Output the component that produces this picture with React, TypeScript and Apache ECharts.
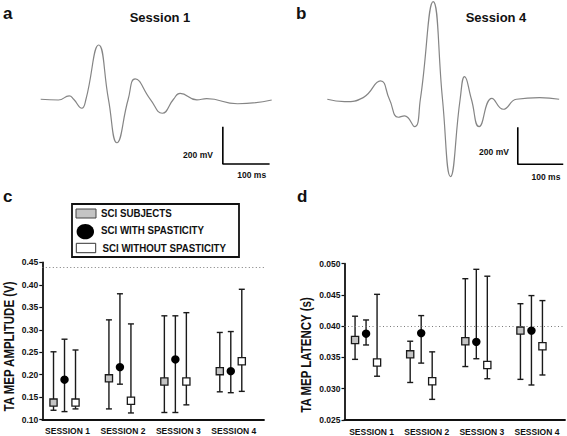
import React, { useEffect, useRef } from 'react';
import * as echarts from 'echarts';

const SESSIONS = ['SESSION 1', 'SESSION 2', 'SESSION 3', 'SESSION 4'];
const GROUP_NAMES = ['SCI SUBJECTS', 'SCI WITH SPASTICITY', 'SCI WITHOUT SPASTICITY'];

// Panel a: session 1 MEP trace (ms, mV)
const WAVE_A_MS = [0, 38, 61, 70.5, 88, 96.8, 124, 144.9, 163, 187.1, 202, 234.4, 260, 284, 298, 334, 355, 421, 494];
const WAVE_A_MV = [0, -4, 18, 0, -48, 0, 291, 0, -233, 0, 109, 0, -75, 0, 32, -3, 3, -24, -4];

// Panel b: session 4 MEP trace (ms, mV)
const WAVE_B_MS = [0, 38, 79, 117, 136.6, 156, 170, 192, 204.7, 233, 253.4, 271, 292.2, 302, 317, 334, 362, 387, 416, 467, 510];
const WAVE_B_MV = [0, -13, 9, 99, 0, -97, -90, -148, 0, 527, 0, -418, 0, 122, 0, -148, 5, -54, 0, 9, 0];

const SCALE_MS = 100;
const SCALE_MV = 200;

// Panel c: TA MEP amplitude (V)
const AMP_ALL_MEAN = [0.138, 0.192, 0.185, 0.208];
const AMP_ALL_LOW = [0.121, 0.124, 0.116, 0.162];
const AMP_ALL_HIGH = [0.251, 0.322, 0.331, 0.294];
const AMP_SPAS_MEAN = [0.189, 0.217, 0.234, 0.208];
const AMP_SPAS_LOW = [0.118, 0.179, 0.116, 0.160];
const AMP_SPAS_HIGH = [0.279, 0.380, 0.331, 0.296];
const AMP_NOSPAS_MEAN = [0.138, 0.142, 0.185, 0.230];
const AMP_NOSPAS_LOW = [0.124, 0.115, 0.133, 0.163];
const AMP_NOSPAS_HIGH = [0.255, 0.313, 0.338, 0.390];
const AMP_REF = 0.441;
const AMP_TICKS = [0.1, 0.45, 0.05];

// Panel d: TA MEP latency (s)
const LAT_ALL_MEAN = [0.0378, 0.0355, 0.0376, 0.0393];
const LAT_ALL_LOW = [0.0347, 0.0310, 0.03355, 0.0315];
const LAT_ALL_HIGH = [0.0416, 0.0376, 0.0476, 0.0436];
const LAT_SPAS_MEAN = [0.0388, 0.0389, 0.0375, 0.0393];
const LAT_SPAS_LOW = [0.0370, 0.0341, 0.0348, 0.0306];
const LAT_SPAS_HIGH = [0.0410, 0.0417, 0.0491, 0.0449];
const LAT_NOSPAS_MEAN = [0.0342, 0.0312, 0.0338, 0.0368];
const LAT_NOSPAS_LOW = [0.0320, 0.0283, 0.0316, 0.0322];
const LAT_NOSPAS_HIGH = [0.0451, 0.0359, 0.0480, 0.0441];
const LAT_REF = 0.040;
const LAT_TICKS = [0.025, 0.05, 0.005];

const FONT = "'Liberation Sans', Arial, Helvetica, sans-serif";
const INK = '#111';
const GRAY_FILL = '#c4c4c4';

function errSeries(xi: number, yi: number, mean: number[], low: number[], high: number[], offset: number, kind: string) {
  return {
    type: 'custom',
    xAxisIndex: xi,
    yAxisIndex: yi,
    clip: false,
    data: mean.map((m, i) => [i, m, low[i], high[i]]),
    encode: { x: 0, y: [1, 2, 3] },
    renderItem: (params: any, api: any) => {
      const c = api.value(0);
      const pm = api.coord([c, api.value(1)]);
      const pl = api.coord([c, api.value(2)]);
      const ph = api.coord([c, api.value(3)]);
      const x = pm[0] + offset;
      const cap = 3;
      const ls = { stroke: '#1a1a1a', lineWidth: 1.4 };
      const children: any[] = [
        { type: 'line', shape: { x1: x, y1: ph[1], x2: x, y2: pl[1] }, style: ls },
        { type: 'line', shape: { x1: x - cap, y1: ph[1], x2: x + cap, y2: ph[1] }, style: ls },
        { type: 'line', shape: { x1: x - cap, y1: pl[1], x2: x + cap, y2: pl[1] }, style: ls },
      ];
      if (kind === 'circle') {
        children.push({ type: 'circle', shape: { cx: x, cy: pm[1], r: 4.2 }, style: { fill: '#000' } });
      } else {
        children.push({
          type: 'rect',
          shape: { x: x - 3.6, y: pm[1] - 3.6, width: 7.2, height: 7.2 },
          style: { fill: kind === 'gray' ? GRAY_FILL : '#fff', stroke: '#1a1a1a', lineWidth: 1.3 },
        });
      }
      return { type: 'group', children };
    },
  };
}

function refLine(xi: number, yi: number, value: number) {
  return {
    type: 'line',
    xAxisIndex: xi,
    yAxisIndex: yi,
    data: SESSIONS.map(() => '-'),
    symbol: 'none',
    silent: true,
    markLine: {
      silent: true,
      symbol: 'none',
      label: { show: false },
      lineStyle: { type: [1, 2.5], color: '#7a7a7a', width: 1 },
      data: [{ yAxis: value }],
    },
  };
}

function txt(x: number, y: number, text: string, size: number, align = 'left', extra: any = {}) {
  return {
    type: 'text',
    x,
    y,
    ...extra,
    style: {
      text,
      fill: INK,
      fontSize: size,
      fontWeight: 'bold',
      fontFamily: FONT,
      align,
      textAlign: align,
      verticalAlign: 'middle',
      textVerticalAlign: 'middle',
    },
  };
}

function catX(gi: number, shiftLeft: number) {
  return {
    type: 'category',
    gridIndex: gi,
    data: SESSIONS,
    boundaryGap: true,
    axisLine: { onZero: false, lineStyle: { color: INK, width: 1.8 } },
    axisTick: { show: false },
    axisLabel: {
      interval: 0,
      margin: 7,
      color: INK,
      fontSize: 8.5,
      fontWeight: 'bold',
      fontFamily: FONT,
      padding: [0, shiftLeft * 2, 0, 0],
    },
    splitLine: { show: false },
  };
}

function valY(gi: number, ticks: number[], digits: number) {
  return {
    type: 'value',
    gridIndex: gi,
    min: ticks[0],
    max: ticks[1],
    interval: ticks[2],
    axisLine: { show: true, onZero: false, lineStyle: { color: INK, width: 1.8 } },
    axisTick: { show: true, length: 3, lineStyle: { color: INK, width: 1.2 } },
    axisLabel: {
      margin: 4,
      color: INK,
      fontSize: 8.5,
      fontWeight: 'bold',
      fontFamily: FONT,
      formatter: (v: number) => v.toFixed(digits),
    },
    splitLine: { show: false },
  };
}

function waveSeries(gi: number, ms: number[], mv: number[]) {
  return {
    type: 'line',
    xAxisIndex: gi,
    yAxisIndex: gi,
    data: ms.map((t, i) => [t, mv[i]]),
    symbol: 'none',
    smooth: 0.5,
    clip: false,
    lineStyle: { color: '#858585', width: 1.2 },
  };
}

function scaleBar(gi: number, cornerMs: number, cornerMv: number) {
  return {
    type: 'line',
    xAxisIndex: gi,
    yAxisIndex: gi,
    data: [
      [cornerMs, cornerMv + SCALE_MV],
      [cornerMs, cornerMv],
      [cornerMs + SCALE_MS, cornerMv],
    ],
    symbol: 'none',
    clip: false,
    lineStyle: { color: '#000', width: 1.6 },
  };
}

const hiddenVal = (gi: number, min: number, max: number) => ({ type: 'value', gridIndex: gi, min, max, show: false });

const option: any = {
  animation: false,
  backgroundColor: '#fff',
  textStyle: { fontFamily: FONT },
  grid: [
    { left: 40.7, top: 43.3, width: 231, height: 130.6 },
    { left: 327.3, top: 0, width: 236.4, height: 182.6 },
    { left: 42.3, top: 262.3, width: 221.7, height: 157.4 },
    { left: 344.5, top: 263.7, width: 220.5, height: 157.5 },
  ],
  xAxis: [hiddenVal(0, 0, 494), hiddenVal(1, 0, 520), catX(2, 2.5), catX(3, 0.5)],
  yAxis: [hiddenVal(0, -400, 300), hiddenVal(1, -450, 536), valY(2, AMP_TICKS, 2), valY(3, LAT_TICKS, 3)],
  series: [
    waveSeries(0, WAVE_A_MS, WAVE_A_MV),
    waveSeries(1, WAVE_B_MS, WAVE_B_MV),
    scaleBar(0, 389.5, -347),
    scaleBar(1, 419, -351),
    refLine(2, 2, AMP_REF),
    refLine(3, 3, LAT_REF),
    errSeries(2, 2, AMP_ALL_MEAN, AMP_ALL_LOW, AMP_ALL_HIGH, -16.5, 'gray'),
    errSeries(2, 2, AMP_SPAS_MEAN, AMP_SPAS_LOW, AMP_SPAS_HIGH, -5.5, 'circle'),
    errSeries(2, 2, AMP_NOSPAS_MEAN, AMP_NOSPAS_LOW, AMP_NOSPAS_HIGH, 5.5, 'white'),
    errSeries(3, 3, LAT_ALL_MEAN, LAT_ALL_LOW, LAT_ALL_HIGH, -17, 'gray'),
    errSeries(3, 3, LAT_SPAS_MEAN, LAT_SPAS_LOW, LAT_SPAS_HIGH, -6, 'circle'),
    errSeries(3, 3, LAT_NOSPAS_MEAN, LAT_NOSPAS_LOW, LAT_NOSPAS_HIGH, 5, 'white'),
  ],
  graphic: [
    txt(3, 13, 'a', 17),
    txt(296, 13, 'b', 17),
    txt(3, 196, 'c', 17),
    txt(297, 196, 'd', 17),
    txt(160, 17, 'Session 1', 13, 'center'),
    txt(496, 17.5, 'Session 4', 13, 'center'),
    txt(198, 155, '200 mV', 8.5, 'center'),
    txt(251.7, 175, '100 ms', 8.5, 'center'),
    txt(494, 151.7, '200 mV', 8.5, 'center'),
    txt(546, 176.7, '100 ms', 8.5, 'center'),
    txt(9.5, 346.5, 'TA MEP AMPLITUDE (V)', 14, 'center', { rotation: Math.PI / 2, scaleX: 0.82 }),
    txt(306, 355, 'TA MEP LATENCY (s)', 14, 'center', { rotation: Math.PI / 2, scaleX: 0.82 }),
    {
      type: 'rect',
      shape: { x: 72, y: 204, width: 167, height: 53 },
      style: { fill: '#fff', stroke: '#111', lineWidth: 1.8 },
    },
    {
      type: 'rect',
      shape: { x: 76, y: 209, width: 20, height: 9 },
      style: { fill: GRAY_FILL, stroke: '#444', lineWidth: 1 },
    },
    {
      type: 'ellipse',
      shape: { cx: 85.3, cy: 231.7, rx: 8.7, ry: 7.6 },
      style: { fill: '#000' },
    },
    {
      type: 'rect',
      shape: { x: 76.3, y: 243.3, width: 19.4, height: 9.4 },
      style: { fill: '#fff', stroke: '#333', lineWidth: 1 },
    },
    txt(101, 213.5, GROUP_NAMES[0], 11, 'left', { scaleX: 0.885 }),
    txt(101, 230.5, GROUP_NAMES[1], 11, 'left', { scaleX: 0.885 }),
    txt(102.5, 248, GROUP_NAMES[2], 11, 'left', { scaleX: 0.885 }),
  ],
};

export default function App() {
  const ref = useRef<HTMLDivElement>(null);
  useEffect(() => {
    const chart = echarts.init(ref.current as HTMLDivElement, null, { renderer: 'svg' });
    chart.setOption(option);
    return () => chart.dispose();
  }, []);
  return (
    <div
      ref={ref}
      style={{ position: 'fixed', left: 0, top: 0, width: 567, height: 436, background: '#fff' }}
    />
  );
}
